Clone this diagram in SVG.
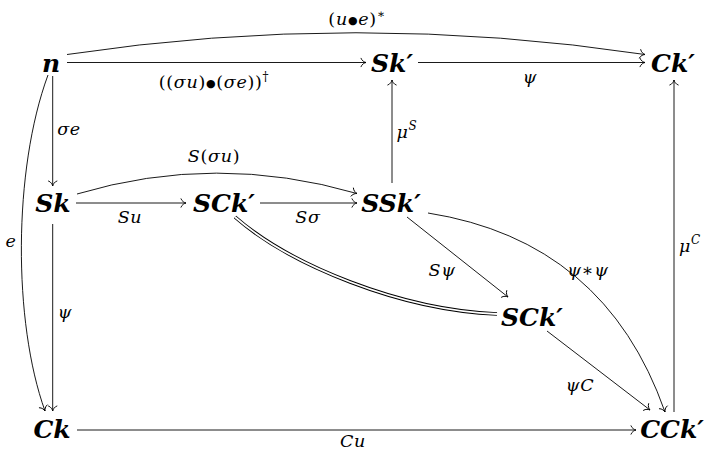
<svg xmlns="http://www.w3.org/2000/svg" width="708" height="452" viewBox="0 0 708 452">
<style>
.node{font-family:'DejaVu Serif',serif;font-weight:bold;font-style:italic;font-size:25px;text-anchor:middle;fill:#000}
.lbl{font-family:'DejaVu Serif',serif;font-style:italic;font-size:17.5px;text-anchor:middle;fill:#000;letter-spacing:0.7px}
.up{font-style:normal}
.bul{font-style:normal;font-size:11px}
.e{fill:none;stroke:#000;stroke-width:0.9}
.arr{marker-end:url(#to)}
.dbl{fill:none;stroke:#000;stroke-width:3.6}
.dblw{fill:none;stroke:#fff;stroke-width:1.8}
</style>
<defs>
<marker id="to" markerUnits="userSpaceOnUse" markerWidth="12" markerHeight="12" viewBox="-7 -6 8 12" refX="0" refY="0" orient="auto" overflow="visible">
<path d="M-5,-4.2 C-4.2,-1.6 -1.5,-0.4 0,0 C-1.5,0.4 -4.2,1.6 -5,4.2" fill="none" stroke="#000" stroke-width="0.9" stroke-linecap="round"/>
</marker>
</defs>
<g id="connectors">
<path class="e arr" d="M67,62.5 H366"/>
<path class="e arr" d="M67,54.5 Q356,11 645,54.5"/>
<path class="e arr" d="M418,62.5 H645"/>
<path class="e arr" d="M52.7,76 V186"/>
<path class="e arr" d="M48,75 C13,170 13,322 45,411"/>
<path class="e arr" d="M52.7,224 V411"/>
<path class="e arr" d="M76,203 H186"/>
<path class="e arr" d="M260,203 H357"/>
<path class="e arr" d="M77,194 Q216,152.5 357,193.5"/>
<path class="e arr" d="M392,183 V80"/>
<path class="e arr" d="M674,412 V80"/>
<path class="e arr" d="M407,217 L508,297"/>
<path class="e arr" d="M428,213 Q605,241 665,412"/>
<path class="e arr" d="M547,331 L650,410"/>
<path class="e arr" d="M77,430 H636"/>
<path class="dbl" d="M235,217 C290,265 400,310 497,314"/>
<path class="dblw" d="M235,217 C290,265 400,310 497,314"/>
</g>
<g id="labels">
<text class="lbl" x="357" y="25"><tspan class="up">(</tspan>u<tspan class="bul" dy="-1.5">●</tspan><tspan dy="1.5">e</tspan><tspan class="up">)</tspan><tspan class="up" font-size="12" dy="-7">∗</tspan></text>
<text class="lbl" x="214" y="88"><tspan class="up">((</tspan>σu<tspan class="up">)</tspan><tspan class="bul" dy="-1.5">●</tspan><tspan class="up" dy="1.5">(</tspan>σe<tspan class="up">))</tspan><tspan class="up" font-size="12" dy="-7">†</tspan></text>
<text class="lbl" x="530" y="83">ψ</text>
<text class="lbl" x="69" y="135">σe</text>
<text class="lbl" x="11" y="247">e</text>
<text class="lbl" x="65" y="318">ψ</text>
<text class="lbl" x="130" y="223">Su</text>
<text class="lbl" x="308" y="223">Sσ</text>
<text class="lbl" x="214" y="162">S<tspan class="up">(</tspan>σu<tspan class="up">)</tspan></text>
<text class="lbl" x="407" y="138">μ<tspan font-size="12" dy="-8">S</tspan></text>
<text class="lbl" x="690" y="252">μ<tspan font-size="12" dy="-8">C</tspan></text>
<text class="lbl" x="442" y="276">Sψ</text>
<text class="lbl" x="588" y="276">ψ<tspan class="up">∗</tspan>ψ</text>
<text class="lbl" x="580" y="391">ψC</text>
<text class="lbl" x="353" y="447">Cu</text>
</g>
<g id="n"><text class="node" x="51" y="72">n</text></g>
<g id="Skp"><text class="node" x="392" y="72">Sk′</text></g>
<g id="Ckp"><text class="node" x="673" y="72">Ck′</text></g>
<g id="Sk"><text class="node" x="53" y="212">Sk</text></g>
<g id="SCkp1"><text class="node" x="224" y="212">SCk′</text></g>
<g id="SSkp"><text class="node" x="391" y="212">SSk′</text></g>
<g id="SCkp2"><text class="node" x="532" y="326">SCk′</text></g>
<g id="Ck"><text class="node" x="52" y="438">Ck</text></g>
<g id="CCkp"><text class="node" x="672" y="438">CCk′</text></g>
</svg>
